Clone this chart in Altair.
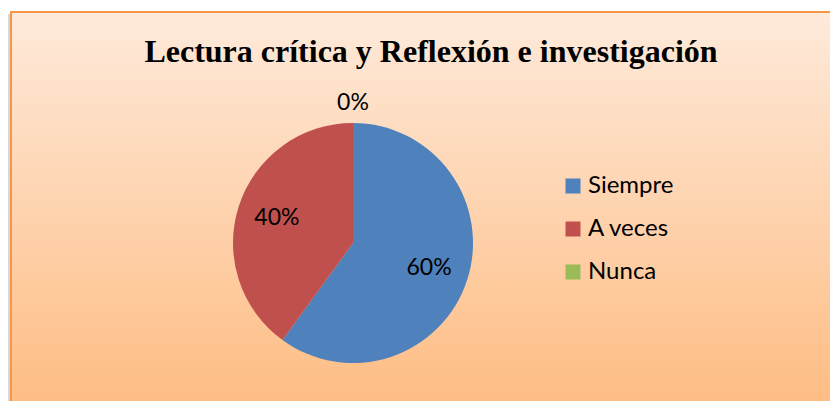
import altair as alt
import pandas as pd

categories = ["Siempre", "A veces", "Nunca"]
values = [60, 40, 0]
labels = ["60%", "40%", "0%"]
colors = ["#4F81BD", "#C0504D", "#9BBB59"]
title_text = "Lectura crítica y Reflexión e investigación"

df = pd.DataFrame({
    "cat": categories,
    "value": values,
    "label": labels,
    "order": list(range(len(categories))),
})

W, H = 822, 393
CX, CY = 345, 235
one = pd.DataFrame({"a": [0]})

bg = alt.Chart(one).mark_rect(
    color=alt.LinearGradient(
        gradient="linear",
        stops=[alt.GradientStop(color="#FEEADB", offset=0),
               alt.GradientStop(color="#FEBD84", offset=1)],
        x1=0, x2=0, y1=0, y2=1,
    ),
    strokeWidth=0,
).encode(x=alt.value(3), x2=alt.value(W), y=alt.value(4), y2=alt.value(H))

shadow = alt.Chart(one).mark_rule(color="#D8D8D8", strokeWidth=2).encode(
    x=alt.value(1), y=alt.value(6), y2=alt.value(H))
border_top = alt.Chart(one).mark_rule(color="#F79646", strokeWidth=2).encode(
    x=alt.value(2), x2=alt.value(W), y=alt.value(4))
border_left = alt.Chart(one).mark_rule(color="#F79646", strokeWidth=2).encode(
    x=alt.value(3), y=alt.value(3), y2=alt.value(H))

title = alt.Chart(pd.DataFrame({"t": [title_text]})).mark_text(
    font="Liberation Serif", fontWeight="bold", fontSize=32, color="black",
    align="center", baseline="alphabetic",
).encode(x=alt.value(423), y=alt.value(54), text="t:N")

base = alt.Chart(df).encode(
    theta=alt.Theta("value:Q", stack=True),
    order=alt.Order("order:Q"),
)

pie = base.mark_arc(radius=120).encode(
    x=alt.value(CX), y=alt.value(CY),
    color=alt.Color(
        "cat:N",
        scale=alt.Scale(domain=categories, range=colors),
        sort=categories,
        legend=alt.Legend(
            title=None, orient="none", legendX=553, legendY=166,
            symbolType="square", symbolSize=225, symbolStrokeWidth=0,
            labelFont="Lato", labelFontSize=24, labelColor="black",
            labelOffset=3, rowPadding=19, padding=0,
        ),
    ),
)

inner = base.transform_calculate(
    lab="datum.value > 0 ? datum.label : ''"
).mark_text(
    radius=80, font="Lato", fontSize=23, color="black",
    align="center", baseline="middle",
).encode(x=alt.value(CX), y=alt.value(CY), text="lab:N")

outer = base.transform_calculate(
    lab="datum.value == 0 ? datum.label : ''"
).mark_text(
    radius=140, font="Lato", fontSize=23, color="black",
    align="center", baseline="middle",
).encode(x=alt.value(CX), y=alt.value(CY), text="lab:N")

chart = alt.layer(bg, shadow, border_top, border_left, title, pie, inner, outer).properties(
    width=W, height=H, padding=0,
    autosize=alt.AutoSizeParams(type="none"),
    background="white",
).configure_view(strokeWidth=0)

chart.save("out.html", embed_options={"renderer": "svg", "actions": False})
